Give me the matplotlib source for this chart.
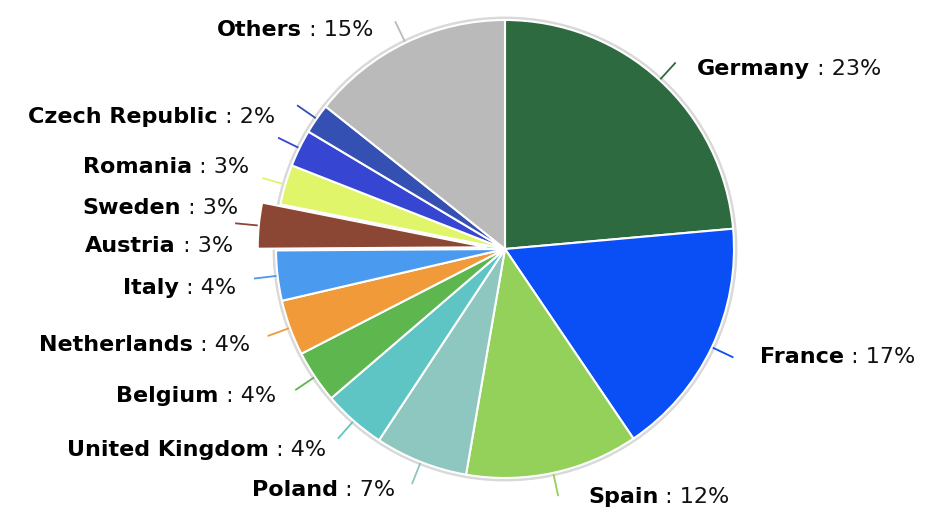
import numpy as np
import matplotlib
matplotlib.use("Agg")
import matplotlib.pyplot as plt

countries = ["Germany", "France", "Spain", "Poland", "United Kingdom", "Belgium",
             "Netherlands", "Italy", "Austria", "Sweden", "Romania",
             "Czech Republic", "Others"]
shares = [23.4, 16.8, 12.1, 6.5, 4.4, 3.7, 3.9, 3.5, 3.2, 2.8, 2.6, 2.1, 14.2]
pct_labels = ["23%", "17%", "12%", "7%", "4%", "4%", "4%", "4%", "3%", "3%",
              "3%", "2%", "15%"]
colors = ["#2d6a3f", "#0a4ef5", "#93d15b", "#8ec6c0", "#5fc4c4", "#5db64e",
          "#f09a3a", "#4a9af0", "#8b4733", "#e0f56a", "#3646d2", "#3450b3",
          "#bababa"]
explode = [0, 0, 0, 0, 0, 0, 0, 0, 0.08, 0, 0, 0, 0]

# label anchors in pixels (x, y of vertical centre); left side anchored at right end
label_px = [(697, 69), (760, 357), (588, 497), (395, 490), (326, 450), (276, 396),
            (250, 345), (236, 288), (233, 246), (238, 208), (249, 167), (275, 117),
            (373, 30)]

W, H = 928, 509
cx, cy, R = 505, 249, 229
FS = 16

fig = plt.figure(figsize=(W / 100, H / 100), dpi=100)
ax = fig.add_axes([0, 0, 1, 1])

# soft outer rim
ax.add_patch(plt.Circle((0, 0), 1.012, color="#d9d9d9", zorder=0))

wedges, _ = ax.pie(shares, colors=colors, startangle=90, counterclock=False,
                   explode=explode, radius=1.0,
                   wedgeprops=dict(edgecolor="white", linewidth=1.5))
for w in wedges:
    w.set_zorder(2)

ax.set_xlim(-cx / R, (W - cx) / R)
ax.set_ylim(-(H - cy) / R, cy / R)
ax.set_aspect("equal", adjustable="datalim")
ax.axis("off")

for i, w in enumerate(wedges):
    mid = np.deg2rad((w.theta1 + w.theta2) / 2)
    off = explode[i]
    x0, y0 = np.cos(mid) * (1.0 + off), np.sin(mid) * (1.0 + off)
    x1, y1 = np.cos(mid) * (1.1 + off), np.sin(mid) * (1.1 + off)
    ax.plot([x0, x1], [y0, y1], color=colors[i], lw=1.3, zorder=1)

    px, py = label_px[i]
    lx, ly = (px - cx) / R, (cy - py) / R
    if lx > 0:
        t = ax.text(lx, ly, countries[i], ha="left", va="center",
                    fontsize=FS, fontweight="bold", color="black")
        ax.annotate(" : " + pct_labels[i], xy=(1, 0), xycoords=t,
                    ha="left", va="bottom", fontsize=FS, color="#111111")
    else:
        t = ax.text(lx, ly, " : " + pct_labels[i], ha="right", va="center",
                    fontsize=FS, color="#111111")
        ax.annotate(countries[i], xy=(0, 0), xycoords=t,
                    ha="right", va="bottom", fontsize=FS,
                    fontweight="bold", color="black")

fig.savefig("out.png", dpi=100)
